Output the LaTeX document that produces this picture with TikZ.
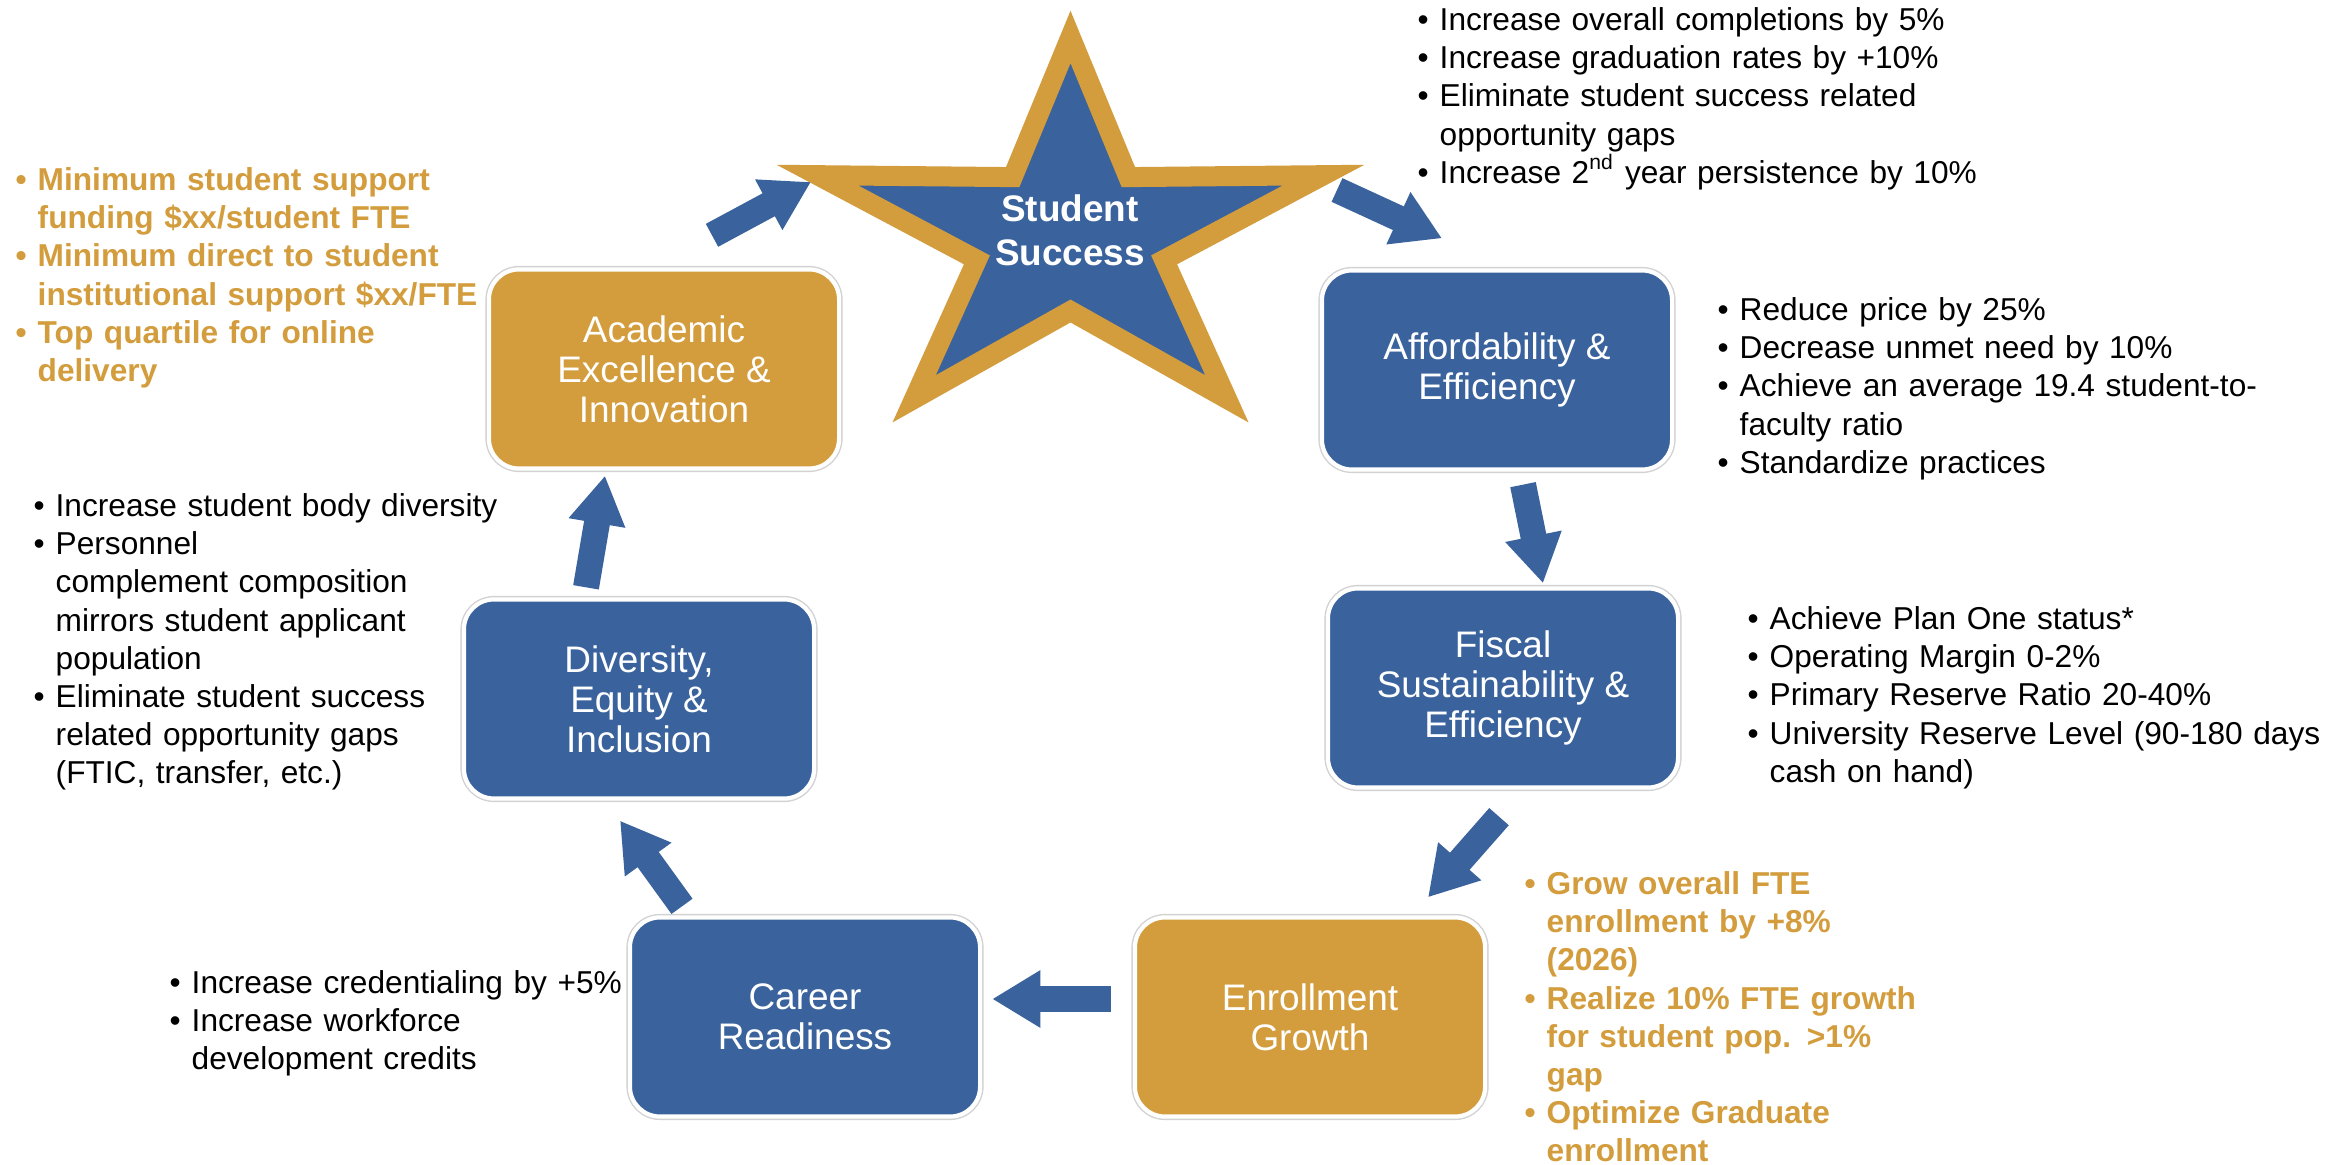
\documentclass[tikz,border=0pt]{standalone}
\usepackage{fontspec}
\setmainfont{Liberation Sans}
\usetikzlibrary{arrows.meta, positioning, calc}

\definecolor{ssblue}{RGB}{58,99,157}
\definecolor{ssgold}{RGB}{211,157,61}

% one bullet line with hanging indent
\newcommand{\itm}[1]{\hangindent=0.22cm\hangafter=1\noindent\makebox[0.22cm][l]{\textbullet}#1\par}

\tikzset{
  goal/.style={rectangle, rounded corners=0.3cm, minimum width=3.5cm, minimum height=1.99cm,
    text=white, align=center, font=\fontsize{10.5}{11.4}\selectfont,
    draw=white, line width=1.2pt, preaction={draw=gray!35, line width=2pt}},
  bluegoal/.style={goal, fill=ssblue},
  goldgoal/.style={goal, fill=ssgold},
  notes/.style={anchor=north west, inner sep=0pt, text width=#1, align=left,
    font=\fontsize{9}{10.85}\selectfont},
  goldnotes/.style={notes=#1, text=ssgold, font=\fontsize{9}{10.85}\selectfont\bfseries},
  flow/.style={draw=ssblue, line width=0.26cm, -{Triangle[length=0.48cm, width=0.54cm]}},
}

\begin{document}
\begin{tikzpicture}[x=0.01cm, y=-0.01cm]
    \fill[white] (0,0) rectangle (2325,1165);
    \useasboundingbox (0,0) rectangle (2325,1165);

    % Star
    \begin{scope}[shift={(1070.5,237)}, xscale=1.33]
        \draw[ssgold, fill=ssblue, line width=0.2cm, line join=miter] (-90:200)
            \foreach \a in {-18,54,126,198} { -- (\a-36:74) -- (\a:200) } -- (234:74) -- cycle;
    \end{scope}
    \node[text=white, align=center, font=\fontsize{10.5}{12.6}\selectfont\bfseries] (success) at (1070,230) {Student\\Success};

    % Goal boxes
    \node[goldgoal] (academic) at (664,369) {Academic\\Excellence \&\\Innovation};
    \node[bluegoal] (afford) at (1497,370) {Affordability \&\\Efficiency};
    \node[bluegoal] (fiscal) at (1503,688) {Fiscal\\Sustainability \&\\Efficiency};
    \node[goldgoal] (enroll) at (1310,1017) {Enrollment\\Growth};
    \node[bluegoal] (career) at (805,1017) {Career\\Readiness};
    \node[bluegoal] (divers) at (639,699) {Diversity,\\Equity \&\\Inclusion};

    % Arrows
    \draw[flow] ([shift={(48,-32)}]academic.north) -- ([shift={(-259,-48)}]success.center);
    \draw[flow] ([shift={(267,-40)}]success.center) -- ([shift={(-55,-30)}]afford.north);
    \draw[flow] ([shift={(26,13)}]afford.south) -- ([shift={(40,-3)}]fiscal.north);
    \draw[flow] ([shift={(-4,27)}]fiscal.south) -- ([shift={(118,-18)}]enroll.north);
    \draw[flow] ([shift={(-22,-18)}]enroll.west) -- ([shift={(10,-18)}]career.east);
    \draw[flow] ([shift={(-123,-9)}]career.north) -- ([shift={(-19,20)}]divers.south);
    \draw[flow] ([shift={(-53,-10)}]divers.north) -- ([shift={(-59,5)}]academic.south);

    % Targets
    \node[notes=6cm] (successnotes) at (1417,7) {%
        \itm{Increase overall completions by 5\%}
        \itm{Increase graduation rates by +10\%}
        \itm{Eliminate student success related\newline opportunity gaps}
        \itm{Increase 2\textsuperscript{nd} year persistence by 10\%}};
    \node[goldnotes=6cm] (academicnotes) at (15,167) {%
        \itm{Minimum student support\newline funding \$xx/student FTE}
        \itm{Minimum direct to student\newline institutional support \$xx/FTE}
        \itm{Top quartile for online\newline delivery}};
    \node[notes=6cm] (affordnotes) at (1717,297) {%
        \itm{Reduce price by 25\%}
        \itm{Decrease unmet need by 10\%}
        \itm{Achieve an average 19.4 student-to-\newline faculty ratio}
        \itm{Standardize practices}};
    \node[notes=6cm] (fiscalnotes) at (1747,606) {%
        \itm{Achieve Plan One status*}
        \itm{Operating Margin 0-2\%}
        \itm{Primary Reserve Ratio 20-40\%}
        \itm{University Reserve Level (90-180 days\newline cash on hand)}};
    \node[notes=6cm] (diversnotes) at (33,493) {%
        \itm{Increase student body diversity}
        \itm{Personnel\newline complement composition\newline mirrors student applicant\newline population}
        \itm{Eliminate student success\newline related opportunity gaps\newline (FTIC, transfer, etc.)}};
    \node[notes=6cm] (careernotes) at (169,970) {%
        \itm{Increase credentialing by +5\%}
        \itm{Increase workforce\newline development credits}};
    \node[goldnotes=6cm] (enrollnotes) at (1524,871) {%
        \itm{Grow overall FTE\newline enrollment by +8\%\newline (2026)}
        \itm{Realize 10\% FTE growth\newline for student pop. >1\%\newline gap}
        \itm{Optimize Graduate\newline enrollment}};
\end{tikzpicture}
\end{document}
